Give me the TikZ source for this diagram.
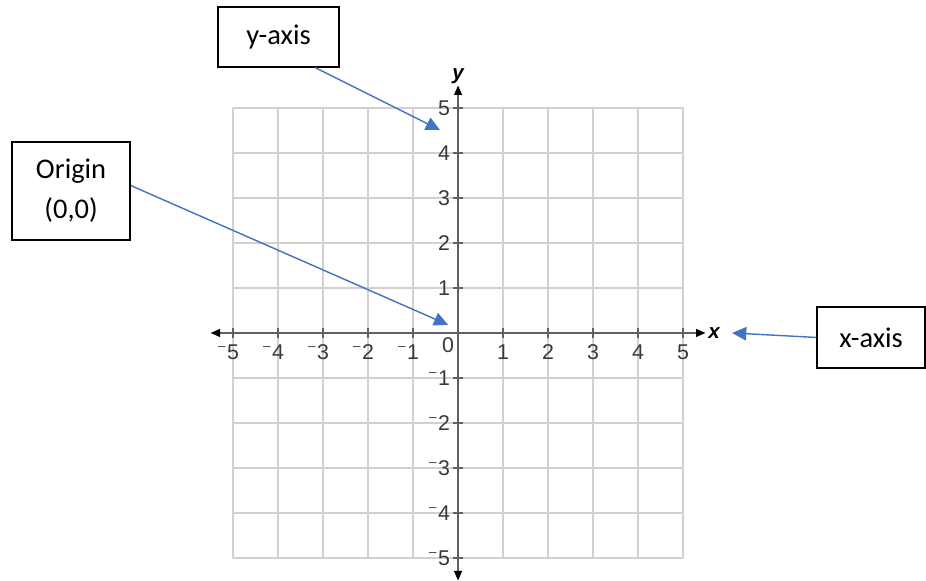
\documentclass[tikz,border=0pt]{standalone}
\usepackage{fontspec}
\setmainfont{Liberation Sans}
\newfontfamily\boxfont{Carlito}
\usetikzlibrary{arrows.meta,positioning}

% raised small minus in front of a tick number
\newcommand{\negnum}[1]{\llap{\raisebox{5.8pt}{\fontsize{8.5}{8.5}\selectfont\textendash}\kern1pt}#1}

\begin{document}
\begin{tikzpicture}[
  gridline/.style={draw=black!18,line width=0.9pt},
  axisline/.style={draw=black!62,line width=0.9pt},
  axistip/.style={{Triangle[length=6pt,width=5pt,black]}-{Triangle[length=6pt,width=5pt,black]}},
  labelbox/.style={draw,line width=1pt,fill=white,inner sep=0pt,font=\boxfont\fontsize{18}{25}\selectfont,align=center},
  pointer/.style={draw={rgb,255:red,68;green,114;blue,196},line width=0.9pt,-{Triangle[length=9pt,width=8.5pt]}},
  ticklab/.style={font=\fontsize{13.5}{16}\selectfont,text=black!78,inner sep=0pt},
  axisname/.style={font=\fontsize{13}{15}\selectfont\bfseries\itshape,inner sep=0pt}
]
\useasboundingbox (-10.18,-5.51) rectangle (10.4,7.4);

% grid and axes
\draw[gridline] (-5,-5) grid (5,5);
\draw[axisline,axistip] (-5.5,0) -- (5.5,0);
\draw[axisline,axistip] (0,-5.5) -- (0,5.5);
\node[axisname] (xname) at (5.69,0) {x};
\node[axisname] (yname) at (0,5.7) {y};

\foreach \i in {1,...,5} {
  \draw[axisline] (\i,-0.11) -- (\i,0.11);
  \draw[axisline] (-\i,-0.11) -- (-\i,0.11);
  \draw[axisline] (-0.11,\i) -- (0.11,\i);
  \draw[axisline] (-0.11,-\i) -- (0.11,-\i);
  \node[ticklab,anchor=base] (xp\i) at (\i,-0.6) {\i};
  \node[ticklab,anchor=base] (xm\i) at (-\i,-0.6) {\negnum{\i}};
  \node[ticklab,anchor=base east] (yp\i) at (-0.17,\i-0.165) {\i};
  \node[ticklab,anchor=base east] (ym\i) at (-0.17,-\i-0.165) {\negnum{\i}};
}
\node[ticklab,anchor=base] (zero) at (-0.22,-0.44) {0};

% callout boxes
\node[labelbox,minimum width=2.69cm,minimum height=1.33cm] (ylab) at (-3.99,6.58) {y-axis};
\node[labelbox,minimum width=2.62cm,minimum height=2.18cm] (orig) at (-8.6,3.16) {Origin\\(0,0)};
\node[labelbox,minimum width=2.4cm,minimum height=1.36cm] (xlab) at (9.18,-0.1) {x-axis};

\coordinate (ytip) at (-0.4,4.51);
\coordinate (otip) at (-0.22,0.18);
\coordinate (xtip) at (6.09,0);
\draw[pointer] (ylab.-40) -- (ytip);
\draw[pointer] (orig.5) -- (otip);
\draw[pointer] (xlab.west) -- (xtip);
\end{tikzpicture}
\end{document}
